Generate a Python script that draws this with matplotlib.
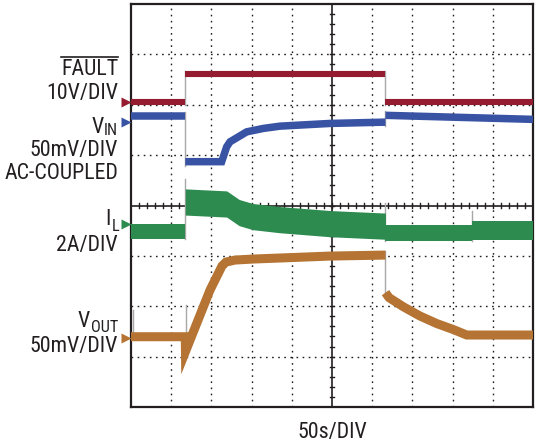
import numpy as np
import matplotlib
matplotlib.use("Agg")
import matplotlib.pyplot as plt
from matplotlib.lines import Line2D
from matplotlib import font_manager as fm

# ---------------- data (time in divisions, level in divisions) ----------------
fault_t = [0.0, 1.35, 1.35, 6.33, 6.33, 10.0]
fault_y = [6.06, 6.06, 6.61, 6.61, 6.06, 6.06]

vin_t = [0.0, 1.35, 1.35, 2.256, 2.38, 2.463, 2.878, 3.291, 3.706, 4.95, 6.33, 6.33, 10.0]
vin_y = [5.78, 5.78, 4.87, 4.87, 5.165, 5.264, 5.462, 5.53, 5.575, 5.629, 5.655, 5.79, 5.71]

il_t = [0.0, 1.35, 1.35, 2.38, 2.69, 3.03, 3.69, 4.95, 6.33, 6.33, 8.475, 8.475, 10.0]
il_y = [3.48, 3.48, 4.07, 4.03, 3.86, 3.78, 3.72, 3.64, 3.59, 3.45, 3.45, 3.51, 3.51]
il_w = [0.30, 0.30, 0.52, 0.52, 0.52, 0.52, 0.52, 0.52, 0.52, 0.32, 0.32, 0.38, 0.38]

vout_t = [0.0, 1.35, 1.355, 1.965, 2.264, 2.363, 2.587, 3.035, 4.95, 6.33,
          6.33, 6.42, 6.774, 7.189, 7.604, 8.017, 8.351, 10.0]
vout_y = [1.395, 1.395, 1.10, 2.32, 2.80, 2.877, 2.917, 2.937, 2.996, 3.016,
          2.27, 2.17, 1.99, 1.806, 1.657, 1.538, 1.429, 1.429]
vout_spike_t = [0.05, 1.36]
vout_spike_top = [1.92, 2.02]

ref_levels = {"fault": 6.06, "vin": 5.65, "il": 3.63, "vout": 1.37}

labels_fault = ["FAULT", "10V/DIV"]
labels_vin = ["V", "IN", "50mV/DIV", "AC-COUPLED"]
labels_il = ["I", "L", "2A/DIV"]
labels_vout = ["V", "OUT", "50mV/DIV"]
xlabel = "50s/DIV"

# ---------------- styling ----------------
C_FAULT = "#951B30"
C_VIN = "#3953A4"
C_IL = "#2E8B4F"
C_VOUT = "#B57433"
C_EDGE = "#A8A8A8"
C_INK = "#231F20"

W, H = 539, 443
DPI = 100


def pick_condensed():
    pref = ["Liberation Sans Narrow", "Roboto Condensed", "Open Sans Condensed",
            "Noto Sans", "Open Sans", "Roboto", "Inter", "DejaVu Sans"]
    cands = []
    for f in fm.fontManager.ttflist:
        st = f.stretch
        cond = False
        if isinstance(st, str):
            cond = "condensed" in st or "narrow" in st
        else:
            try:
                cond = int(st) < 100
            except Exception:
                cond = False
        nm = f.name
        if "Narrow" in nm or "Condensed" in nm or "Narrow" in f.fname or "Condensed" in f.fname:
            cond = True
        if not cond:
            continue
        if f.style != "normal":
            continue
        w = f.weight if isinstance(f.weight, int) else {"normal": 400, "regular": 400}.get(str(f.weight), 700)
        if w not in (400, 300, 350):
            continue
        if "Semi" in f.fname or "Extra" in f.fname or "Ultra" in f.fname:
            continue
        if "Mono" in nm or "Serif" in nm:
            continue
        rank = next((i for i, p in enumerate(pref) if nm.startswith(p)), 99)
        cands.append((rank, abs(w - 400), f.fname))
    if cands:
        cands.sort()
        return cands[0][2]
    return None


COND = pick_condensed()
if COND:
    BASE_FP = fm.FontProperties(fname=COND)
else:
    BASE_FP = fm.FontProperties(family=["Liberation Sans", "DejaVu Sans"])

fig = plt.figure(figsize=(W / DPI, H / DPI), dpi=DPI)
fig.patch.set_facecolor("white")
renderer = fig.canvas.get_renderer()

# scale the label font so that "AC-COUPLED" spans ~114 px, as in the reference
probe = fig.text(0, 0, labels_vin[3], fontproperties=BASE_FP.copy())
probe.get_fontproperties().set_size(15.5)
pw = probe.get_window_extent(renderer=renderer).width
probe.remove()
FS = min(15.5 * 114.0 / pw, 16.0)
FS_SUB = FS * 0.74

ax_l, ax_r, ax_t, ax_b = 131, 533, 4, 407
ax = fig.add_axes([ax_l / W, 1 - ax_b / H, (ax_r - ax_l) / W, (ax_b - ax_t) / H])
ax.set_xlim(0, 10)
ax.set_ylim(0, 8)
ax.set_xticks([])
ax.set_yticks([])
for s in ax.spines.values():
    s.set_linewidth(1.6)
    s.set_color(C_INK)

# grid
for gx in range(1, 10):
    if gx == 5:
        continue
    ax.axvline(gx, color=C_INK, lw=1.0, ls=(0, (1.2, 3.2)), zorder=1)
for gy in range(1, 8):
    if gy == 4:
        continue
    ax.axhline(gy, color=C_INK, lw=1.0, ls=(0, (1.2, 3.2)), zorder=1)
ax.axvline(5, color=C_INK, lw=1.2, zorder=1)
ax.axhline(4, color=C_INK, lw=1.2, zorder=1)
for i in range(1, 50):
    tx = i * 0.2
    ax.plot([tx, tx], [4 - 0.05, 4 + 0.05], color=C_INK, lw=1.0, zorder=1)
for i in range(1, 40):
    ty = i * 0.2
    ax.plot([5 - 0.06, 5 + 0.06], [ty, ty], color=C_INK, lw=1.0, zorder=1)


def split_segments(t):
    segs = []
    start = 0
    for i in range(1, len(t)):
        if t[i] == t[i - 1]:
            segs.append((start, i))
            start = i
    segs.append((start, len(t)))
    return segs


def draw_line_trace(t, y, color, lw_pt, half):
    t = np.asarray(t, float)
    y = np.asarray(y, float)
    segs = split_segments(t)
    for a, b in segs:
        ax.plot(t[a:b], y[a:b], color=color, lw=lw_pt, solid_capstyle="butt",
                solid_joinstyle="miter", zorder=3)
    for (a, b), (c, d) in zip(segs[:-1], segs[1:]):
        y0, y1 = y[b - 1], y[c]
        lo, hi = min(y0, y1) - half, max(y0, y1) + half
        ax.plot([t[c], t[c]], [lo, hi], color=C_EDGE, lw=1.0, zorder=2)


def draw_band_trace(t, y, w, color):
    t = np.asarray(t, float)
    y = np.asarray(y, float)
    w = np.asarray(w, float)
    segs = split_segments(t)
    for a, b in segs:
        ax.fill_between(t[a:b], y[a:b] - w[a:b] / 2, y[a:b] + w[a:b] / 2,
                        color=color, lw=0, zorder=3)
    for (a, b), (c, d) in zip(segs[:-1], segs[1:]):
        lo = min(y[b - 1] - w[b - 1] / 2, y[c] - w[c] / 2)
        hi = max(y[b - 1] + w[b - 1] / 2, y[c] + w[c] / 2)
        ax.plot([t[c], t[c]], [lo, hi + 0.2], color=C_EDGE, lw=1.0, zorder=2)


draw_line_trace(fault_t, fault_y, C_FAULT, 4.4, 0.06)
draw_line_trace(vin_t, vin_y, C_VIN, 5.4, 0.08)
draw_band_trace(il_t, il_y, il_w, C_IL)
for st, top in zip(vout_spike_t, vout_spike_top):
    ax.plot([st, st], [vout_y[0], top], color=C_EDGE, lw=1.0, zorder=2)
ax.plot([vout_spike_t[1], vout_spike_t[1]], [1.0, vout_y[0]], color=C_EDGE, lw=1.0, zorder=2)
draw_line_trace(vout_t, vout_y, C_VOUT, 6.5, 0.09)

# channel reference markers
for key, col in [("fault", C_FAULT), ("vin", C_VIN), ("il", C_IL), ("vout", C_VOUT)]:
    ax.plot([-0.13], [ref_levels[key]], marker=">", ms=6.5, color=col, mec="none",
            clip_on=False, zorder=5)

# ---------------- labels ----------------


def ftext(xpx, ypx, s, fs=None, ha="right"):
    fp = BASE_FP.copy()
    fp.set_size(FS if fs is None else fs)
    return fig.text(xpx / W, 1 - ypx / H, s, fontproperties=fp, ha=ha,
                    va="baseline", color=C_INK)


def sub_label(xpx, base_main, base_sub, main, sub):
    t_sub = ftext(xpx, base_sub, sub, fs=FS_SUB)
    bb = t_sub.get_window_extent(renderer=renderer)
    ftext(xpx - bb.width - 0.5, base_main, main)


RX = 118
t_fault = ftext(RX, 75, labels_fault[0])
bb = t_fault.get_window_extent(renderer=renderer)
fig.add_artist(Line2D([bb.x0 / W, bb.x1 / W], [1 - 57 / H, 1 - 57 / H],
                      color=C_INK, lw=1.2, transform=fig.transFigure))
ftext(RX, 99, labels_fault[1])
sub_label(RX, 133, 135, labels_vin[0], labels_vin[1])
ftext(RX, 156, labels_vin[2])
ftext(RX, 179, labels_vin[3])
sub_label(RX + 1, 225, 231, labels_il[0], labels_il[1])
ftext(RX, 251, labels_il[2])
sub_label(RX, 327, 332, labels_vout[0], labels_vout[1])
ftext(RX, 352, labels_vout[2])
ftext(332, 438, xlabel, ha="center")

fig.savefig("out.png", dpi=DPI)
